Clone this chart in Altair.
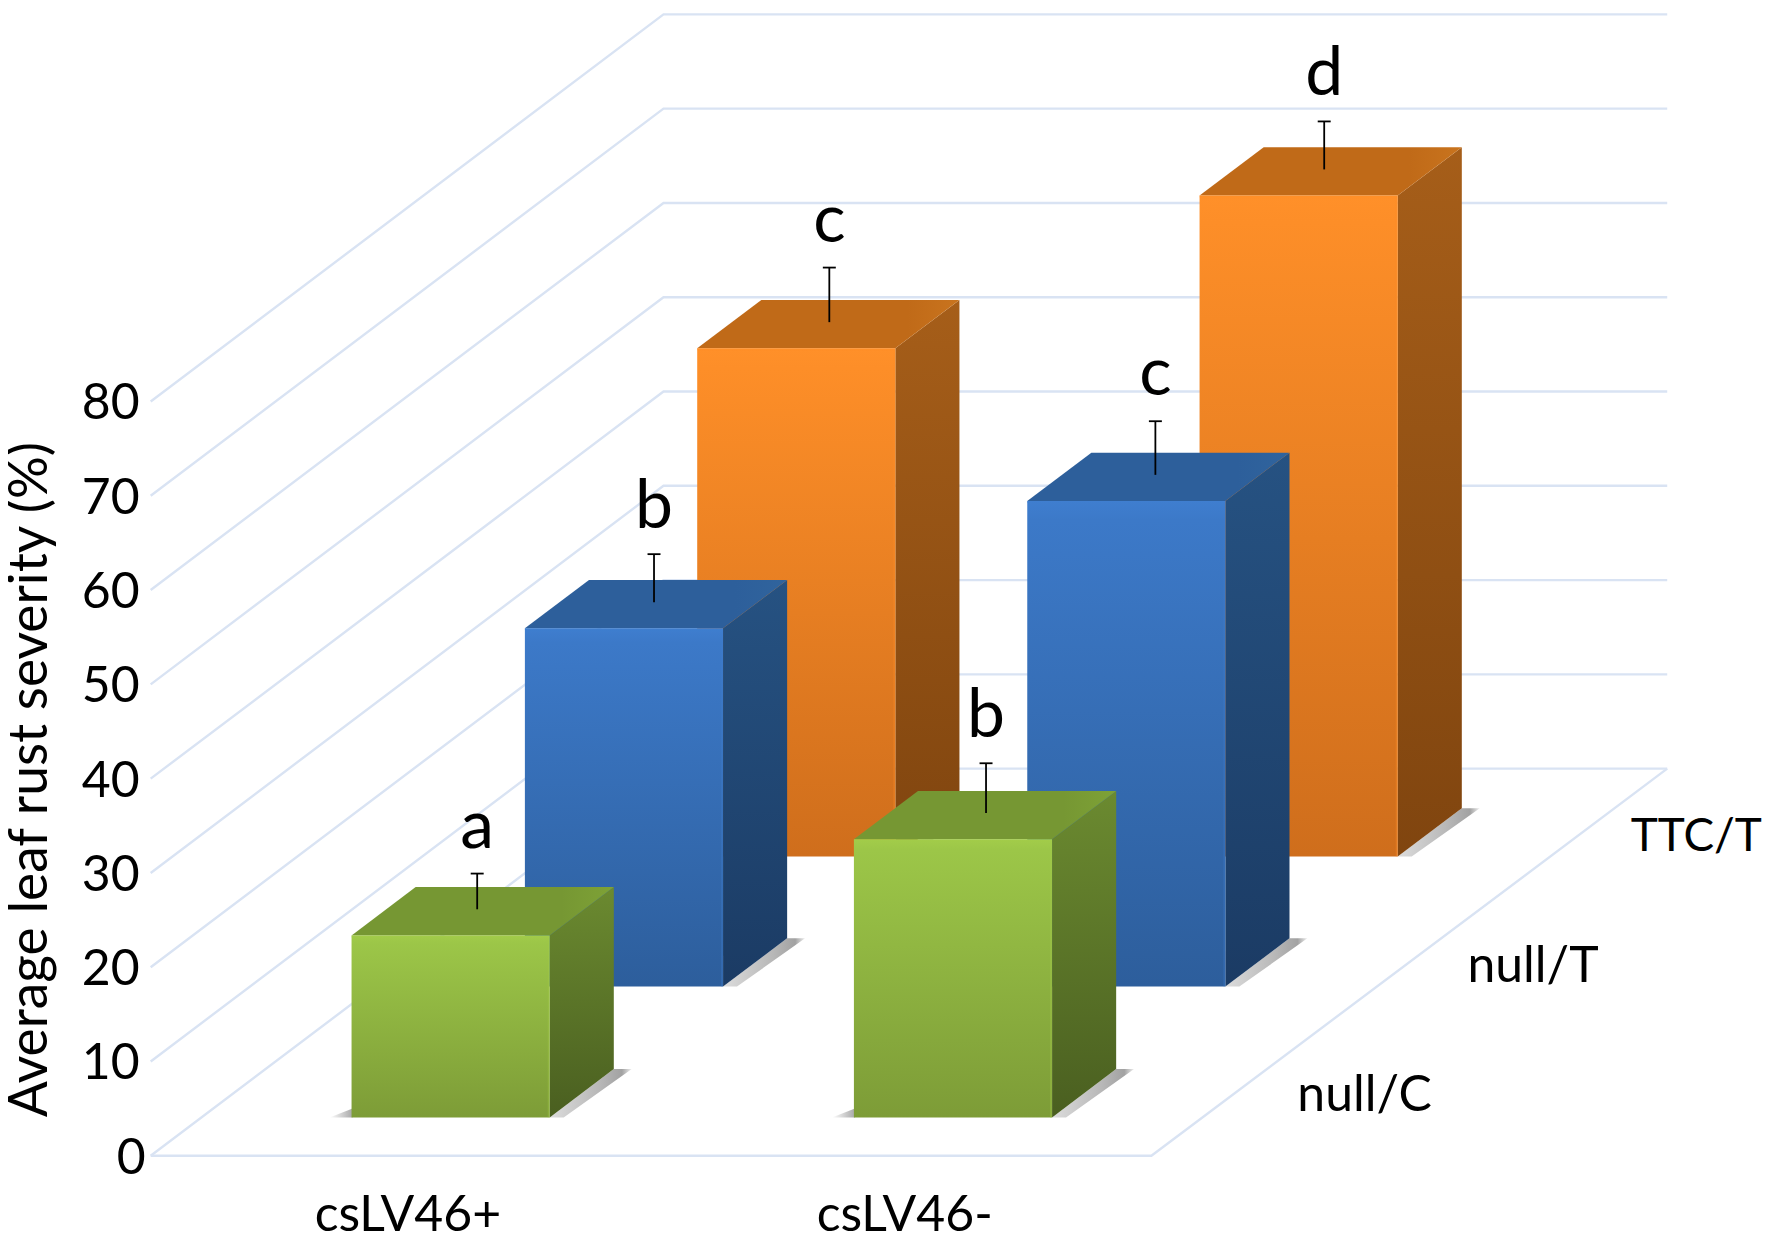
import altair as alt
import pandas as pd

# ---------- values ----------
genotypes = ["csLV46+", "csLV46-"]
series = ["null/C", "null/T", "TTC/T"]
null_c = [19.3, 29.5]
null_t = [38.0, 51.5]
ttc_t = [53.9, 70.1]
err_up_c = [4.0, 5.5]
err_up_t = [5.3, 5.9]
err_up_ttc = [6.0, 5.3]
letters_c = ["a", "b"]
letters_t = ["b", "c"]
letters_ttc = ["c", "d"]
y_ticks = [0, 10, 20, 30, 40, 50, 60, 70, 80]
y_title = "Average leaf rust severity (%)"

# ---------- styles ----------
FRONT = [("#a2cc4a", "#9cc648", "#7d9c37"), ("#3f7ecf", "#3c79c8", "#2d5e9c"), ("#ff9029", "#fd8e28", "#cf6e1c")]
SIDE = [("#6b8a30", "#4a5f20"), ("#265282", "#1b3b64"), ("#a65e19", "#80450f")]
TOP = [("#769733", "#7ea236"), ("#2d5f9b", "#30649d"), ("#c06a18", "#c9741e")]
GRID = "#d9e3f3"
FONT = "Lato"
ERR_NUDGE = [[-5.5, 1], [-2, -3], [1, -6.5]]
SERIES_STYLE = [(50, 4, -2), (50, -1, 0), (46, -10, 0)]

# ---------- oblique projection of the 3-D box ----------
OX, OY = 151, 1157        # front-left floor corner
FLOOR_W = 1003            # floor width on screen
DEPTH_X, DEPTH_Y = 514, 388
UNIT = 9.45               # pixels per percent
BAR_X = [0.15, 0.652]
BAR_D = [0.099, 0.437, 0.773]
BAR_W = 0.198
BAR_T = 0.125
GRID_END = 1.003


def pr(x, d, v):
    return OX + FLOOR_W * x + DEPTH_X * d, OY - UNIT * v - DEPTH_Y * d


sx = alt.Scale(domain=[8, 1768], range=[0, 1760], nice=False, zero=False)
sy = alt.Scale(domain=[1231, 8], range=[1223, 0], nice=False, zero=False)
X = alt.X("x:Q", scale=sx, axis=None)
Y = alt.Y("y:Q", scale=sy, axis=None)


def grad(stops, vertical=True):
    return alt.Gradient(
        gradient="linear", x1=0, y1=0,
        x2=0 if vertical else 1, y2=1 if vertical else 0,
        stops=[alt.GradientStop(offset=o, color=c) for o, c in stops],
    )


def area(points, fill):
    df = pd.DataFrame(points, columns=["x", "y", "y2"])
    return alt.Chart(df).mark_area(color=fill, orient="vertical", interpolate="linear", strokeWidth=0).encode(
        x=X, y=Y, y2=alt.Y2("y2:Q"))


def line(points, color, width, opacity=1.0):
    df = pd.DataFrame(points, columns=["x", "y"]).assign(o=range(len(points)))
    return alt.Chart(df).mark_line(color=color, strokeWidth=width, opacity=opacity, interpolate="linear").encode(
        x=X, y=Y, order="o:Q")


def label(x, y, text, size, align="center", angle=0):
    df = pd.DataFrame({"x": [x], "y": [y], "t": [text]})
    return alt.Chart(df).mark_text(font=FONT, fontSize=size, color="#000000", align=align,
                                   baseline="middle", angle=angle).encode(x=X, y=Y, text="t:N")


layers = []

# gridlines on the walls and floor
for v in y_ticks:
    layers.append(line([pr(0, 0, v), pr(0, 1, v), pr(GRID_END, 1, v)], GRID, 2.4))
layers.append(line([pr(0, 0, 0), pr(1, 0, 0), pr(GRID_END, 1, 0)], GRID, 2.4))

# bars, back row first
all_vals = [null_c, null_t, ttc_t]
all_errs = [err_up_c, err_up_t, err_up_ttc]
all_lets = [letters_c, letters_t, letters_ttc]
for s in [2, 1, 0]:
    d0 = BAR_D[s]
    d1 = d0 + BAR_T
    for c in range(2):
        v = all_vals[s][c]
        x0 = BAR_X[c]
        x1 = x0 + BAR_W
        # shadows on the floor: a thin wedge along the side's lower edge
        a, b = pr(x1, d0, 0), pr(x1, d1, 0)
        tip = b[0] + 18
        foot = a[0] + 14
        slope = (b[1] - a[1]) / (tip - foot)
        slope_up = (b[1] - a[1]) / (b[0] - a[0])
        layers.append(area(
            [(a[0], a[1], a[1]),
             (foot, a[1] + slope_up * (foot - a[0]), a[1]),
             (b[0], b[1], a[1] + slope * (b[0] - foot)),
             (tip, b[1], b[1])],
            grad([(0, "#dcdcdc"), (0.6, "#b8b8b8"), (0.88, "#a2a2a2"), (1, "#efefef")], vertical=False)))
        l = pr(x0, d0, 0)
        layers.append(area([(l[0] - 22, l[1], l[1]), (l[0] + 1, l[1] - 9, l[1])],
                           grad([(0, "#ffffff"), (1, "#a8a8a8")], vertical=False)))
        # side face
        p, q, r, t = pr(x1, d0, v), pr(x1, d1, v), pr(x1, d0, 0), pr(x1, d1, 0)
        layers.append(area([(p[0], p[1], r[1]), (q[0], q[1], t[1])],
                           grad([(0, SIDE[s][0]), (1, SIDE[s][1])])))
        # top face
        fl, bl, fr, br = pr(x0, d0, v), pr(x0, d1, v), pr(x1, d0, v), pr(x1, d1, v)
        layers.append(area([(fl[0], fl[1], fl[1]), (bl[0], bl[1], fl[1]), (fr[0], bl[1], fr[1]), (br[0], br[1], br[1])],
                           grad([(0, TOP[s][0]), (0.8, TOP[s][0]), (1, TOP[s][1])], vertical=False)))
        # front face
        f0, f1 = pr(x0, d0, v), pr(x1, d0, 0)
        layers.append(area([(f0[0], f0[1], f1[1]), (f1[0], f0[1], f1[1])],
                           grad([(0, FRONT[s][0]), (0.04, FRONT[s][1]), (1, FRONT[s][2])])))
        # soft highlight on the bevelled edges
        layers.append(line([(f0[0], f0[1] + 1), (f1[0] - 1, f0[1] + 1), (f1[0] - 1, f1[1])], FRONT[s][0], 2, 0.35))
        # error bar and significance letter
        cx, cy = pr(x0 + BAR_W / 2, d0 + BAR_T / 2, v)
        up = all_errs[s][c]
        ex = cx + ERR_NUDGE[s][c]
        top = cy - UNIT * up
        bottom = cy - 2
        layers.append(line([(ex, bottom), (ex, top)], "#000000", 1.8))
        layers.append(line([(ex - 6.5, top), (ex + 6.5, top)], "#000000", 1.8))
        layers.append(label(ex, top - 46, all_lets[s][c], 68))

# y axis tick labels and title
for v in y_ticks:
    px, py = pr(0, 0, v)
    layers.append(label(px - (5 if v == 0 else 11), py + 3, str(v), 50, align="right"))
layers.append(label(31, 780, y_title, 53.5, angle=270))

# category labels under the front edge
for name, x in zip(genotypes, [0.257, 0.7535]):
    px, py = pr(x, 0, 0)
    layers.append(label(px, py + 60, name, 50))

# series labels along the right floor edge
for name, d, (size, nx, ny) in zip(series, [BAR_D[0] + 0.06, BAR_D[1] + 0.06, BAR_D[2] + 0.06], SERIES_STYLE):
    px, py = pr(1, d, 0)
    layers.append(label(px + 128 + nx, py + 4 + ny, name, size))

chart = alt.layer(*layers).properties(
    width=1760, height=1223, padding=0, autosize=alt.AutoSizeParams(type="none"), background="#ffffff"
).configure_view(stroke=None)

chart.save("out.html", embed_options={"renderer": "svg", "actions": False})
